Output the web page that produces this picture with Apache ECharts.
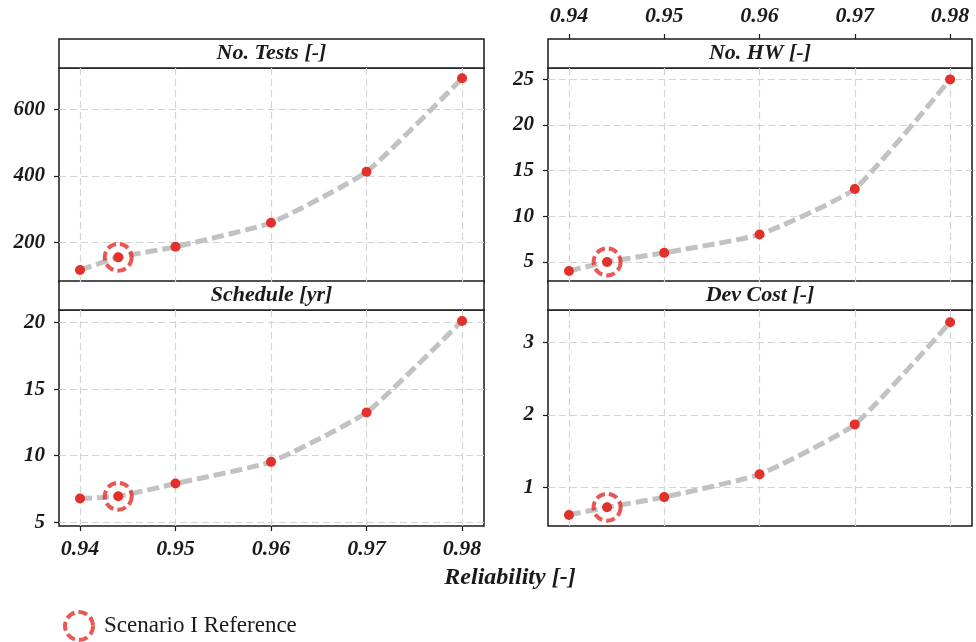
<!DOCTYPE html>
<html>
<head>
<meta charset="utf-8">
<script src="https://cdn.jsdelivr.net/npm/echarts@6/dist/echarts.min.js"></script>
<style>
  html, body { margin: 0; padding: 0; background: #fff; }
  #chart { width: 976px; height: 642px; }
</style>
</head>
<body>
<div id="chart"></div>
<script>
// reliability values, index 1 is the Scenario I reference point
const reliability = [0.94, 0.944, 0.95, 0.96, 0.97, 0.98];
const refIndex = 1;
const xTicks = [0.94, 0.95, 0.96, 0.97, 0.98];

const tests = [117, 155, 187, 259, 412, 693];
const hw = [4, 5, 6, 8, 13, 25];
const schedule = [6.78, 6.95, 7.91, 9.54, 13.25, 20.13];
const devCost = [0.62, 0.725, 0.866, 1.18, 1.87, 3.28];

const testsTicks = [200, 400, 600];
const hwTicks = [5, 10, 15, 20, 25];
const scheduleTicks = [5, 10, 15, 20];
const devCostTicks = [1, 2, 3];

const RED = "#e2302a";
const GRAY_LINE = "#c2c2c2";
const GRID_LINE = "#d4d4d4";
const SERIF = "Liberation Serif, DejaVu Serif, serif";

let myChart = echarts.init(document.getElementById("chart"));

// panel layout: plot areas, strips drawn above each
const panels = [
  { title: "No. Tests [-]", data: tests, ticks: testsTicks, min: 81, max: 724,
    left: 59, width: 425, top: 68, height: 214, xLabel: null },
  { title: "No. HW [-]", data: hw, ticks: hwTicks, min: 2.8, max: 26.25,
    left: 548, width: 424, top: 68, height: 214, xLabel: "top" },
  { title: "Schedule [yr]", data: schedule, ticks: scheduleTicks, min: 4.72, max: 20.95,
    left: 59, width: 425, top: 310, height: 216, xLabel: "bottom" },
  { title: "Dev Cost [-]", data: devCost, ticks: devCostTicks, min: 0.467, max: 3.45,
    left: 548, width: 424, top: 310, height: 216, xLabel: null }
];
const stripH = 29;
const ringStyle = { color: "rgba(0,0,0,0)", borderColor: RED, borderWidth: 4, borderType: [9, 4] };

let grids = [], xAxes = [], yAxes = [], series = [], graphics = [];

panels.forEach(function(p, i) {
  grids.push({
    left: p.left, top: p.top, width: p.width, height: p.height,
    show: true, borderColor: "#1a1a1a", borderWidth: 1.5, backgroundColor: "#fff"
  });
  xAxes.push({
    type: "value", gridIndex: i, min: 0.9378, max: 0.9823,
    position: p.xLabel === "top" ? "top" : "bottom",
    offset: p.xLabel === "top" ? stripH : 0,
    axisLine: { show: false },
    axisTick: { show: !!p.xLabel, customValues: xTicks, length: 5, inside: false,
      lineStyle: { color: "#1a1a1a", width: 1.2 } },
    axisLabel: { show: !!p.xLabel, customValues: xTicks, margin: 12,
      fontFamily: SERIF, fontStyle: "italic", fontWeight: "bold", fontSize: 22, color: "#1a1a1a",
      formatter: function(v) { return v.toFixed(2); } },
    splitLine: { show: true, lineStyle: { color: GRID_LINE, type: [7, 4], width: 1.2 } }
  });
  yAxes.push({
    type: "value", gridIndex: i, min: p.min, max: p.max,
    axisLine: { show: false },
    axisTick: { show: true, customValues: p.ticks, length: 5,
      lineStyle: { color: "#1a1a1a", width: 1.2 } },
    axisLabel: { customValues: p.ticks, margin: 14,
      fontFamily: SERIF, fontStyle: "italic", fontWeight: "bold", fontSize: 21, color: "#1a1a1a" },
    splitLine: { show: true, lineStyle: { color: GRID_LINE, type: [7, 4], width: 1.2 } }
  });
  series.push({
    type: "line", xAxisIndex: i, yAxisIndex: i,
    data: reliability.map(function(r, k) { return [r, p.data[k]]; }),
    smooth: 0.15,
    symbol: "circle", symbolSize: 10,
    itemStyle: { color: RED },
    lineStyle: { color: GRAY_LINE, width: 5, type: [12, 5] },
    z: 3
  });
  series.push({
    name: "Scenario I Reference",
    type: "scatter", xAxisIndex: i, yAxisIndex: i,
    data: [[reliability[refIndex], p.data[refIndex]]],
    symbol: "circle", symbolSize: 27,
    itemStyle: ringStyle,
    z: 4
  });
  // strip label above the panel
  graphics.push({
    type: "rect",
    shape: { x: p.left, y: p.top - stripH, width: p.width, height: stripH },
    style: { fill: "#fff", stroke: "#1a1a1a", lineWidth: 1.5 }
  });
  graphics.push({
    type: "text",
    x: p.left + p.width / 2, y: p.top - stripH / 2,
    style: { text: p.title, align: "center", verticalAlign: "middle",
      font: "italic bold 22px " + SERIF, fill: "#1a1a1a" }
  });
});

graphics.push({
  type: "text", x: 510, y: 578,
  style: { text: "Reliability [-]", align: "center", verticalAlign: "middle",
    font: "italic bold 24px " + SERIF, fill: "#1a1a1a" }
});

let option = {
  animation: false,
  grid: grids,
  xAxis: xAxes,
  yAxis: yAxes,
  series: series,
  legend: {
    data: [{ name: "Scenario I Reference", itemStyle: ringStyle }],
    left: 58, top: 605,
    itemWidth: 28, itemHeight: 28, itemGap: 10,
    itemStyle: ringStyle,
    textStyle: { fontFamily: SERIF, fontSize: 23, color: "#1a1a1a", padding: [0, 0, 0, 6] }
  },
  graphic: graphics
};
myChart.setOption(option);
</script>
</body>
</html>
